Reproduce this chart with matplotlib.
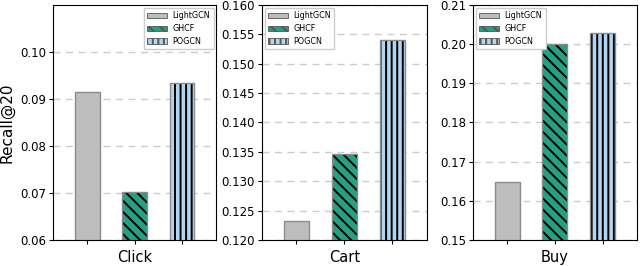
import matplotlib.pyplot as plt
import numpy as np

methods = ['LightGCN', 'GHCF', 'POGCN']
behaviors = ['Click', 'Cart', 'Buy']
click = [0.0914, 0.0703, 0.0935]
cart = [0.1233, 0.1347, 0.1541]
buy = [0.1647, 0.2000, 0.2029]
values = [click, cart, buy]

ylims = [(0.06, 0.11), (0.12, 0.16), (0.15, 0.21)]
yticks = [np.arange(0.06, 0.1001, 0.01),
          np.arange(0.12, 0.1601, 0.005),
          np.arange(0.15, 0.2101, 0.01)]
ytick_fmt = ['{:.2f}', '{:.3f}', '{:.2f}']
legend_loc = ['upper right', 'upper left', 'upper left']

colors = ['#bdbdbd', '#26a082', '#b2d5f0']
hatches = ['', '\\\\\\', '|||']

plt.rcParams['hatch.linewidth'] = 1.4

fig = plt.figure(figsize=(6.4, 2.66), dpi=100)
boxes = [(0.083, 0.098, 0.255, 0.883),
         (0.409, 0.098, 0.258, 0.883),
         (0.739, 0.098, 0.256, 0.883)]

x = np.arange(len(methods))
for i, box in enumerate(boxes):
    ax = fig.add_axes(box)
    ax.set_axisbelow(True)
    ax.yaxis.grid(True, linestyle=(0, (5, 4)), color='#cccccc', linewidth=1)
    handles = []
    for j, m in enumerate(methods):
        # hatch layer (black hatch), then a gray outline on top
        ax.bar(x[j], values[i][j], width=0.52, color=colors[j], hatch=hatches[j],
               edgecolor='black', linewidth=0)
        ax.bar(x[j], values[i][j], width=0.52, facecolor='none',
               edgecolor='#8c8c8c', linewidth=1)
        handles.append(plt.Rectangle((0, 0), 1, 1, facecolor=colors[j],
                                     hatch=hatches[j], edgecolor='#555555',
                                     linewidth=0.6))
    ax.set_ylim(*ylims[i])
    ax.set_xlim(-0.72, 2.72)
    ax.set_yticks(yticks[i])
    ax.set_yticklabels([ytick_fmt[i].format(v) for v in yticks[i]], fontsize=8.5)
    ax.set_xticks(x)
    ax.set_xticklabels(['', behaviors[i], ''], fontsize=10.5)
    ax.tick_params(axis='x', length=3, pad=4)
    ax.tick_params(axis='y', length=3, pad=2)
    ax.legend(handles, methods, loc=legend_loc[i], fontsize=5.8,
              handlelength=2.4, handleheight=0.65, labelspacing=0.45,
              borderpad=0.45, handletextpad=0.7, borderaxespad=0.35,
              framealpha=1, edgecolor='#cccccc')
    if i == 0:
        ax.set_ylabel('Recall@20', fontsize=11, labelpad=4)

fig.savefig('out.png', dpi=100)
